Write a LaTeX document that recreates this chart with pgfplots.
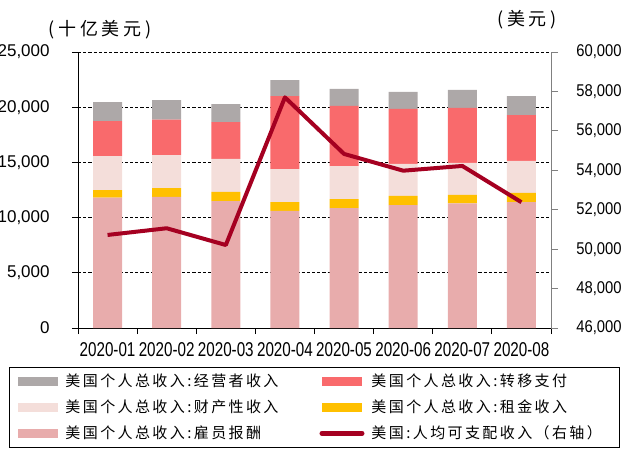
\documentclass[border=0pt]{standalone}
\usepackage{fontspec}
\setmainfont{Liberation Sans}
\newfontfamily\cjk[LetterSpace=16]{Noto Sans CJK SC}
\newfontfamily\cjkt[LetterSpace=20]{Noto Sans CJK SC}
\usepackage{pgfplots}
\usepackage{pgfplotstable}
\pgfplotsset{compat=1.18}

\definecolor{cOwn}{HTML}{ADA8A8}
\definecolor{cTrans}{HTML}{F96A6C}
\definecolor{cProp}{HTML}{F4DEDA}
\definecolor{cRent}{HTML}{FFC000}
\definecolor{cComp}{HTML}{E8ACAC}
\definecolor{cLine}{HTML}{A50021}

% personal income components, billion USD
\pgfplotstableread{
m comp rent prop trans own
0 11800 700 3080 3170 1720
1 11870 810 2990 3200 1780
2 11500 820 2990 3350 1630
3 10600 810 2990 6610 1450
4 10870 810 2990 5440 1540
5 11140 820 2900 4980 1540
6 11290 760 2900 4980 1630
7 11410 820 2900 4160 1720
}\income

% disposable income per capita, USD (right axis)
\pgfplotstableread{
m dpi
0 50720
1 51060
2 50210
3 57700
4 54830
5 53980
6 54220
7 52380
}\dpi

\newcommand{\xl}[1]{\scalebox{0.76}[1]{#1}}

\pgfplotsset{
  common/.style={
    scale only axis, width=236.5pt, height=138pt,
    xmin=-0.5, xmax=7.5,
    scaled y ticks=false,
    /pgf/number format/.cd, 1000 sep={,}, assume math mode=true, /pgfplots/.cd,
    tick align=outside, major tick length=3pt,
    yticklabel style={font=\fontsize{8.5}{10}\selectfont, inner sep=0pt},
  },
}

\begin{document}
\begin{tikzpicture}
\begin{axis}[common,
  ybar stacked, bar width=0.49,
  ymin=0, ymax=25000, ytick={0,5000,...,25000},
  axis x line*=bottom, axis y line*=left,
  axis line style={black, line width=0.5pt},
  tick style={black, line width=0.5pt},
  xtick={-0.5,0.5,...,7.5},
  x tick label as interval,
  xticklabels={\xl{2020-01},\xl{2020-02},\xl{2020-03},\xl{2020-04},\xl{2020-05},\xl{2020-06},\xl{2020-07},\xl{2020-08}},
  xticklabel style={font=\fontsize{10}{11}\selectfont, inner sep=0pt, anchor=north},
  xticklabel shift=4.3pt,
  yticklabel shift=11pt,
  ymajorgrids,
  grid style={black, line width=0.5pt, dash pattern=on 1.6pt off 1pt},
  reverse legend,
  legend columns=2,
  legend cell align=left,
  legend image code/.code={\fill[#1] (0pt,-2.1pt) rectangle (20pt,2.1pt);},
  legend style={at={(0.5,-0.1413)}, anchor=north, draw=black, line width=0.6pt,
    inner xsep=4.5pt, inner ysep=1.5pt, row sep=2.2pt,
    font=\cjk\fontsize{7.5}{8}\selectfont,
    nodes={inner sep=2pt, text height=5.8pt, text depth=1pt, text width=117.5pt, align=left},
    /tikz/every odd column/.append style={column sep=1.5pt},
    /tikz/every even column/.append style={column sep=7.5pt}},
]
\coordinate (bl) at (rel axis cs:0,0);
\addlegendimage{legend image code/.code={\draw[cLine, line width=2.5pt, line cap=round] (0pt,0pt) -- (20pt,0pt);}}
\addlegendentry{美国:人均可支配收入（右轴）}
\addplot[fill=cComp, draw=none] table[x=m, y=comp]{\income};
\addlegendentry{美国个人总收入:雇员报酬}
\addplot[fill=cRent, draw=none] table[x=m, y=rent]{\income};
\addlegendentry{美国个人总收入:租金收入}
\addplot[fill=cProp, draw=none] table[x=m, y=prop]{\income};
\addlegendentry{美国个人总收入:财产性收入}
\addplot[fill=cTrans, draw=none] table[x=m, y=trans]{\income};
\addlegendentry{美国个人总收入:转移支付}
\addplot[fill=cOwn, draw=none] table[x=m, y=own]{\income};
\addlegendentry{美国个人总收入:经营者收入}
\end{axis}

\begin{axis}[common,
  ymin=46000, ymax=60000, ytick={46000,48000,...,60000},
  axis x line=none, axis y line*=right,
  axis line style={gray, line width=0.5pt},
  tick style={gray, line width=0.5pt},
  major tick length=3.5pt,
  yticklabel={\scalebox{0.87}[1]{\pgfmathprintnumber{\tick}}},
  yticklabel shift=9pt,
]
\addplot[cLine, line width=2pt, line join=round] table[x=m, y=dpi]{\dpi};
\end{axis}

\node[font=\cjkt\fontsize{9}{10}\selectfont] at ([shift={(11pt,149pt)}]bl) {(十亿美元)};
\node[font=\cjkt\fontsize{9}{10}\selectfont] at ([shift={(224.5pt,154pt)}]bl) {(美元)};

\pgfresetboundingbox
\path ([shift={(-39pt,-62pt)}]bl) rectangle ([shift={(273.5pt,164pt)}]bl);
\end{tikzpicture}
\end{document}
